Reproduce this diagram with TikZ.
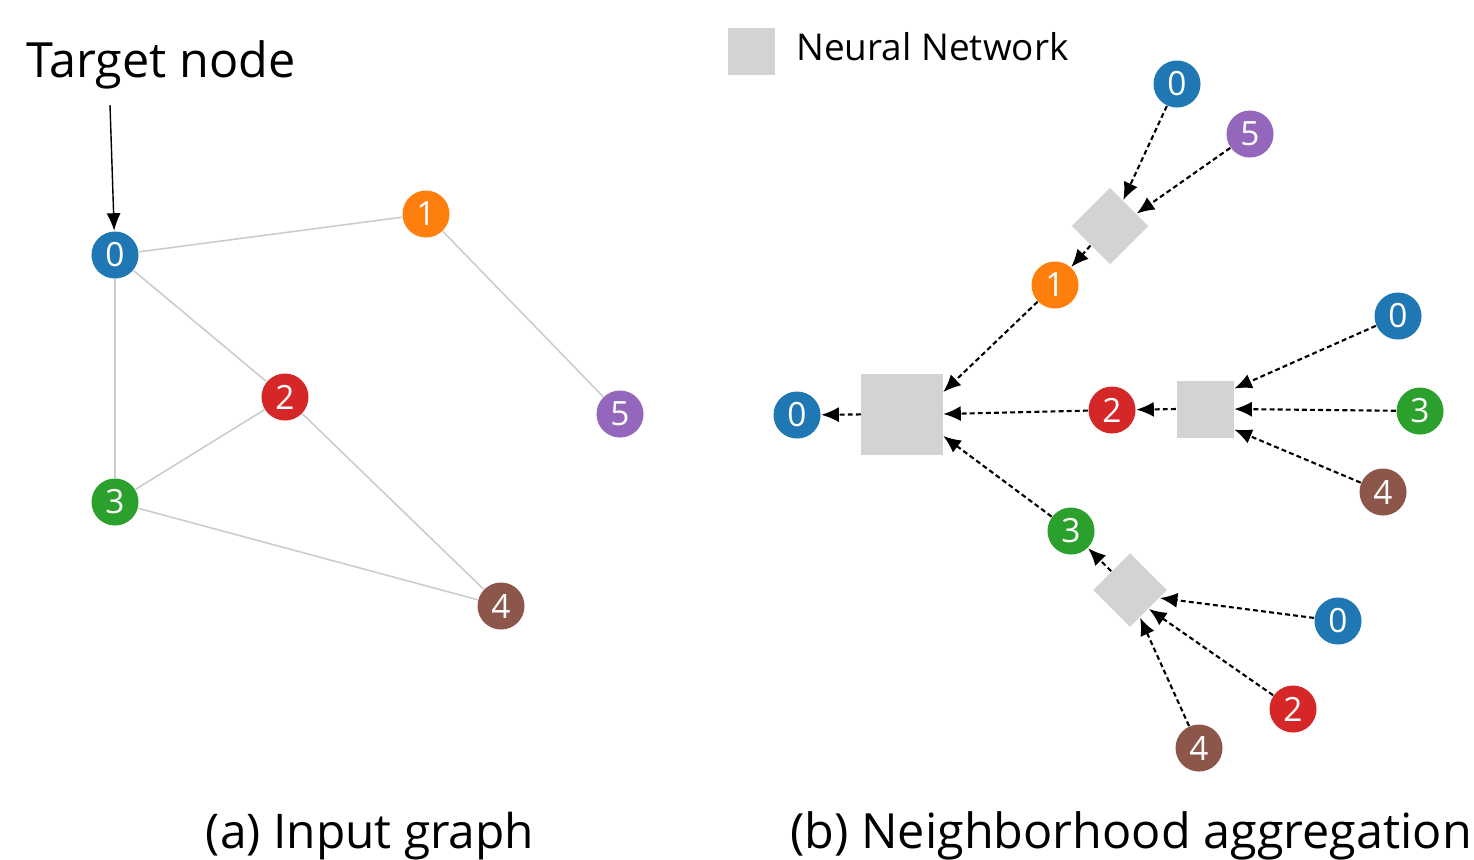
\documentclass[tikz,border=0pt]{standalone}
\usepackage{fontspec}
\setmainfont{Open Sans}
\usetikzlibrary{arrows.meta}
\definecolor{cblue}{HTML}{1F77B4}
\definecolor{corange}{HTML}{FF7F0E}
\definecolor{cgreen}{HTML}{2CA02C}
\definecolor{cred}{HTML}{D62728}
\definecolor{cpurple}{HTML}{9467BD}
\definecolor{cbrown}{HTML}{8C564B}
\definecolor{nngray}{HTML}{D3D3D3}
\definecolor{edgegray}{HTML}{CCCCCC}
\begin{document}
\begin{tikzpicture}[x=0.01cm,y=-0.01cm,
    vtx/.style={circle,fill=#1,minimum size=0.47cm,inner sep=0pt,text=white,
        font=\fontsize{9.5}{11}\selectfont},
    nn/.style={fill=nngray,inner sep=0pt,minimum size=#1},
    edge/.style={draw=edgegray,line width=0.45pt},
    agg/.style={-{Latex[length=5pt,width=4.3pt]},line width=0.6pt,
        dash pattern=on 1.4pt off 0.9pt}]
    \useasboundingbox (0,0) rectangle (1474,859);
    % (a) input graph
    \node[anchor=base] (tlabel) at (161,77) {\fontsize{13.8}{16}\selectfont Target node};
    \coordinate (tgt) at (110,105);
    \node[vtx=cblue] (l0) at (115,255) {0};
    \node[vtx=corange] (l1) at (426,214) {1};
    \node[vtx=cred] (l2) at (285,397) {2};
    \node[vtx=cgreen] (l3) at (115,502) {3};
    \node[vtx=cbrown] (l4) at (501,606) {4};
    \node[vtx=cpurple] (l5) at (620,414) {5};
    \draw[edge] (l0) -- (l1) -- (l5)
        (l0) -- (l2) -- (l3) -- (l0)
        (l2) -- (l4) -- (l3);
    \draw[-{Latex[length=5pt,width=4pt]},line width=0.4pt] (tgt) -- (l0);
    \node[anchor=base] (capa) at (370,848) {\fontsize{13.6}{17}\selectfont (a) Input graph};
    % (b) neighborhood aggregation
    \node[nn=0.47cm] (key) at (751,51) {};
    \node[anchor=west] (keytext) at (784,47) {\fontsize{10.5}{13}\selectfont Neural Network};
    \node[vtx=cblue] (r0) at (797,415) {0};
    \node[nn=0.81cm] (nnbig) at (902,414) {};
    \node[vtx=corange] (r1) at (1055,285) {1};
    \node[vtx=cred] (r2) at (1112,410) {2};
    \node[vtx=cgreen] (r3) at (1071,531) {3};
    \node[nn=0.54cm,rotate=45] (nntop) at (1110,226) {};
    \node[nn=0.57cm] (nnmid) at (1205,409) {};
    \node[nn=0.52cm,rotate=45] (nnbot) at (1130,590) {};
    \node[vtx=cblue] (t0) at (1177,84) {0};
    \node[vtx=cpurple] (t5) at (1250,134) {5};
    \node[vtx=cblue] (m0) at (1398,316) {0};
    \node[vtx=cgreen] (m3) at (1420,411) {3};
    \node[vtx=cbrown] (m4) at (1383,492) {4};
    \node[vtx=cblue] (b0) at (1338,621) {0};
    \node[vtx=cred] (b2) at (1293,709) {2};
    \node[vtx=cbrown] (b4) at (1199,748) {4};
    \draw[agg] (nnbig) -- (r0);
    \draw[agg] (r1) -- (nnbig.28);
    \draw[agg] (r2) -- (nnbig.east);
    \draw[agg] (r3) -- (nnbig.-28);
    \draw[agg] (t0) -- (nntop.18);
    \draw[agg] (t5) -- (nntop.-20);
    \draw[agg] (nntop.west) -- (r1);
    \draw[agg] (m0) -- (nnmid.35);
    \draw[agg] (m3) -- (nnmid.east);
    \draw[agg] (m4) -- (nnmid.-35);
    \draw[agg] (nnmid.west) -- (r2);
    \draw[agg] (b0) -- (nnbot.-60);
    \draw[agg] (b2) -- (nnbot.-90);
    \draw[agg] (b4) -- (nnbot.-115);
    \draw[agg] (nnbot.north) -- (r3);
    \node[anchor=base] (capb) at (1131,848) {\fontsize{13.8}{17}\selectfont (b) Neighborhood aggregation};
\end{tikzpicture}
\end{document}
